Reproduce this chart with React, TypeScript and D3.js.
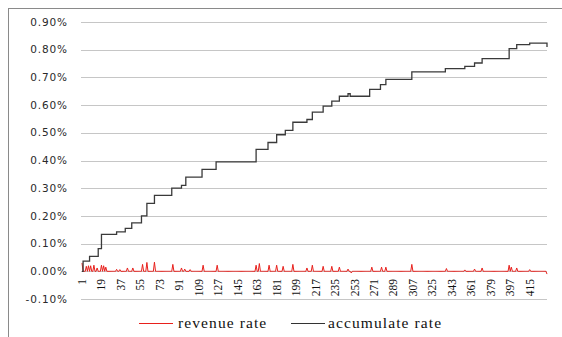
import React from 'react'
import * as d3 from 'd3'

// accumulate rate: index where a new level starts, and the level (%)
const accumIdx = [1, 2, 8, 16, 19, 33, 41, 47, 56, 61, 68, 84, 93, 97, 112, 125, 162, 173, 181, 189, 196, 209, 214, 224, 232, 239, 247, 249, 267, 277, 282, 306, 337, 355, 364, 371, 396, 403, 415, 431]
const accumVal = [0, 0.037, 0.054, 0.082, 0.133, 0.142, 0.155, 0.175, 0.2, 0.245, 0.274, 0.3, 0.31, 0.34, 0.368, 0.395, 0.44, 0.465, 0.493, 0.509, 0.538, 0.548, 0.575, 0.596, 0.614, 0.632, 0.641, 0.632, 0.657, 0.674, 0.693, 0.72, 0.732, 0.74, 0.752, 0.768, 0.804, 0.818, 0.824, 0.81]

// revenue rate: non-zero days (%), all other days are 0
const spikeIdx = [1, 5, 7, 9, 12, 15, 19, 21, 23, 33, 36, 43, 48, 57, 61, 68, 85, 93, 96, 101, 113, 126, 162, 165, 174, 181, 187, 196, 209, 214, 224, 232, 239, 247, 250, 269, 278, 282, 306, 338, 355, 364, 371, 396, 398, 403, 415, 431]
const spikeVal = [0.03, 0.018, 0.02, 0.02, 0.022, 0.012, 0.022, 0.02, 0.015, 0.007, 0.006, 0.012, 0.012, 0.025, 0.032, 0.033, 0.025, 0.012, 0.008, 0.006, 0.022, 0.022, 0.022, 0.028, 0.022, 0.022, 0.018, 0.025, 0.012, 0.022, 0.018, 0.018, 0.015, 0.008, -0.006, 0.015, 0.015, 0.015, 0.025, 0.01, 0.005, 0.008, 0.012, 0.022, 0.015, 0.012, 0.006, -0.01]

const nDays = 431
const tickLabels = ['1', '19', '37', '55', '73', '91', '109', '127', '145', '163', '181', '199', '217', '235', '253', '271', '289', '307', '325', '343', '361', '379', '397', '415']
const yTicks = [-0.1, 0, 0.1, 0.2, 0.3, 0.4, 0.5, 0.6, 0.7, 0.8, 0.9]

export default function App() {
  const W = 562, H = 337
  const x = d3.scaleLinear().domain([1, nDays]).range([82, 547])
  const y = d3.scaleLinear().domain([-0.1, 0.9]).range([299, 22])

  const revenue = d3.range(1, nDays + 1).map(i => {
    const k = spikeIdx.indexOf(i)
    return { i, v: k >= 0 ? spikeVal[k] : 0 }
  })
  const accum = accumIdx.map((i, k) => ({ i, v: accumVal[k] }))

  const revLine = d3.line<{ i: number; v: number }>()
    .x(d => x(d.i))
    .y(d => y(d.v))
  const accLine = d3.line<{ i: number; v: number }>()
    .x(d => x(d.i))
    .y(d => y(d.v))
    .curve(d3.curveStepAfter)

  const fmt = (v: number) => v.toFixed(2) + '%'

  return (
    <svg width={W} height={H} style={{ position: 'absolute', left: 0, top: 0, background: '#fff' }}>
      <rect x={8.5} y={8.5} width={600} height={400} fill="#fff" stroke="#8a8a8a" />
      {yTicks.map(t => (
        <g key={t}>
          <line x1={81} x2={547} y1={Math.round(y(t)) + 0.5} y2={Math.round(y(t)) + 0.5} stroke="#c6c6c6" strokeWidth={1} />
          <text x={68} y={y(t)} dy="0.35em" textAnchor="end" fontFamily="DejaVu Sans" fontSize={10.5} letterSpacing={0.9} fill="#2a2a2a">
            {fmt(t)}
          </text>
        </g>
      ))}
      {tickLabels.map(l => (
        <text key={l} transform={`translate(${x(+l)},279) rotate(-90)`} dy="0.35em" textAnchor="end"
          fontFamily="Liberation Serif" fontSize={11.5} fill="#111">
          {l}
        </text>
      ))}
      <path d={revLine(revenue) || ''} fill="none" stroke="#e8201c" strokeWidth={1} />
      <path d={accLine(accum) || ''} fill="none" stroke="#3a3a3a" strokeWidth={1.3} />
      <line x1={139} x2={173} y1={323.5} y2={323.5} stroke="#e8201c" strokeWidth={1} />
      <text x={178} y={328} fontFamily="Liberation Serif" fontSize={15.5} letterSpacing={1.1} fill="#111">revenue rate</text>
      <line x1={291} x2={325} y1={323.5} y2={323.5} stroke="#333" strokeWidth={1} />
      <text x={328} y={328} fontFamily="Liberation Serif" fontSize={15.5} letterSpacing={1.1} fill="#111">accumulate rate</text>
    </svg>
  )
}
